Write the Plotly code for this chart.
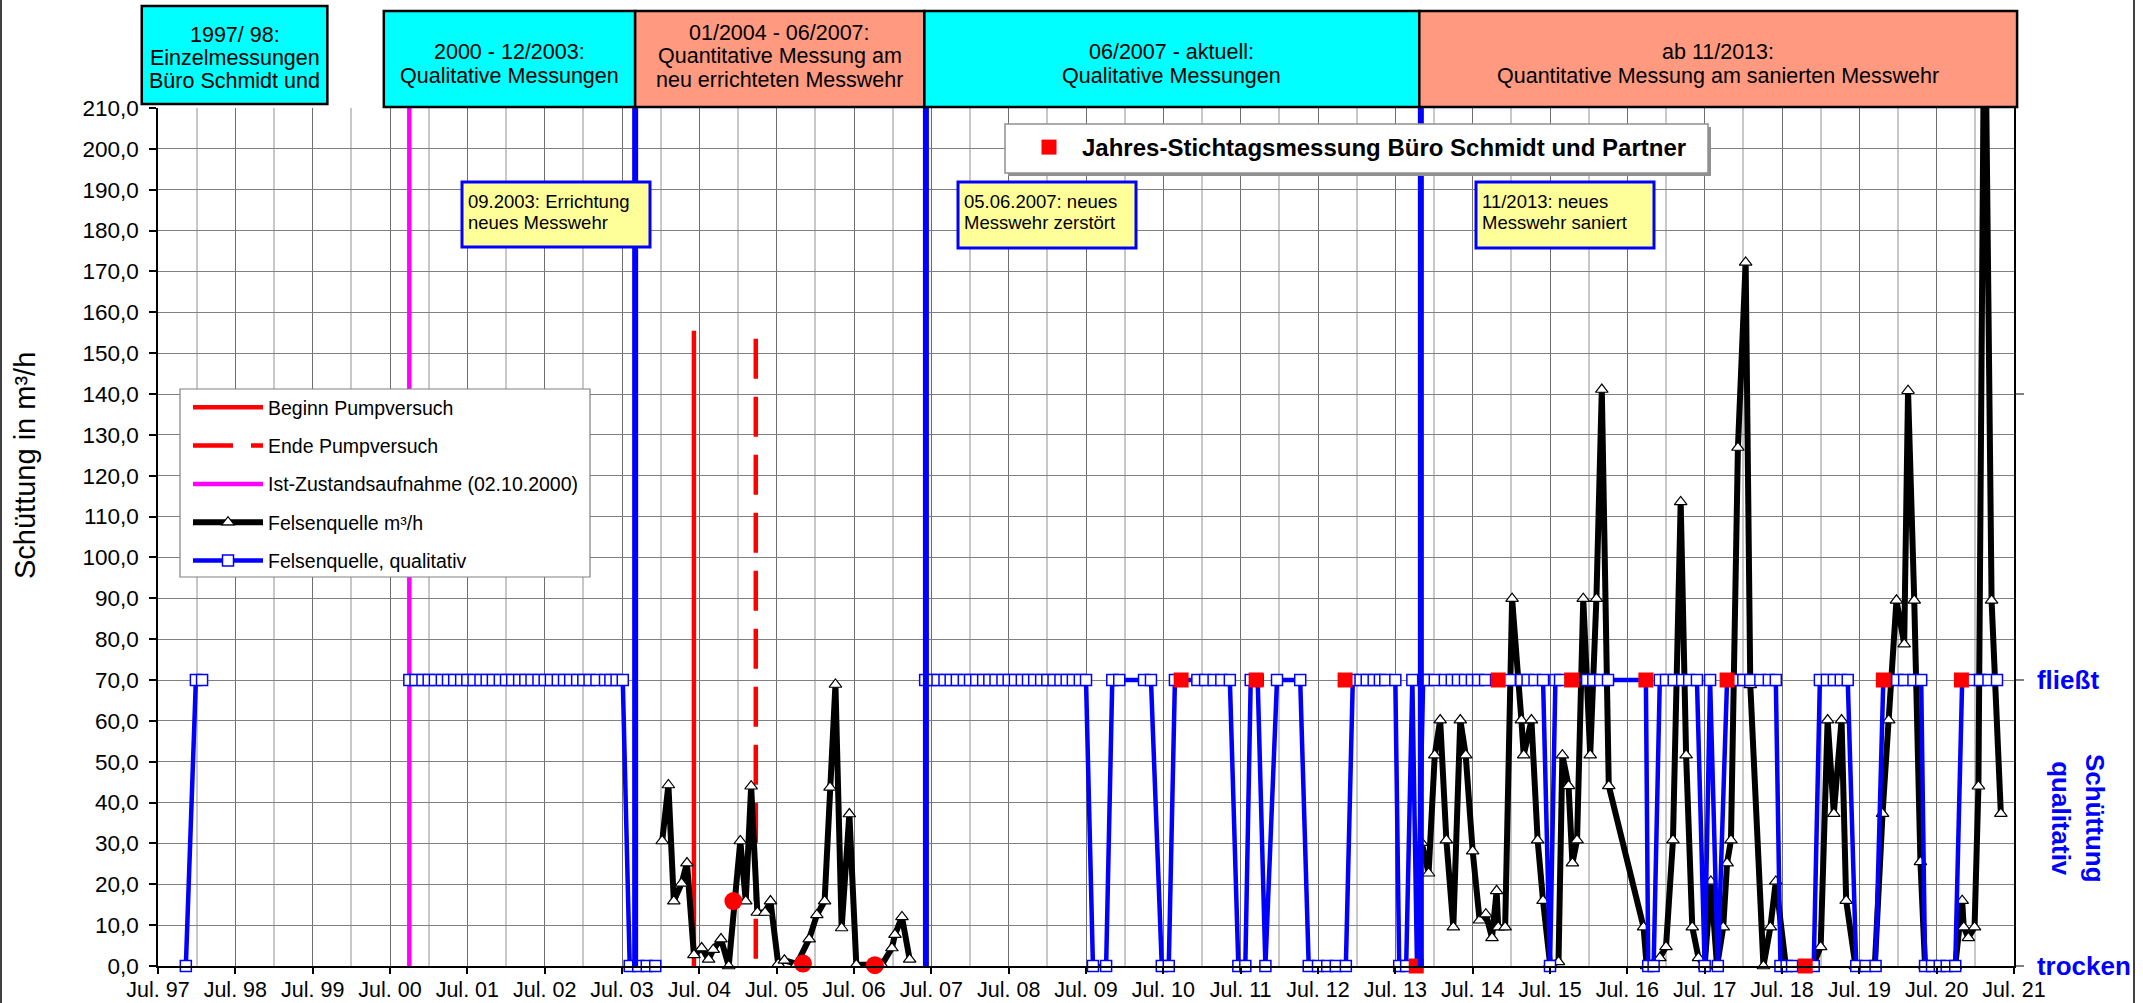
import plotly.graph_objects as go

FONT = "Liberation Sans, Arial, sans-serif"

# ---------------- axis ticks ----------------
tick_vals = [1997.5, 1998.5, 1999.5, 2000.5, 2001.5, 2002.5, 2003.5, 2004.5, 2005.5,
             2006.5, 2007.5, 2008.5, 2009.5, 2010.5, 2011.5, 2012.5, 2013.5, 2014.5,
             2015.5, 2016.5, 2017.5, 2018.5, 2019.5, 2020.5, 2021.5]
tick_text = ["Jul. 97", "Jul. 98", "Jul. 99", "Jul. 00", "Jul. 01", "Jul. 02", "Jul. 03",
             "Jul. 04", "Jul. 05", "Jul. 06", "Jul. 07", "Jul. 08", "Jul. 09", "Jul. 10",
             "Jul. 11", "Jul. 12", "Jul. 13", "Jul. 14", "Jul. 15", "Jul. 16", "Jul. 17",
             "Jul. 18", "Jul. 19", "Jul. 20", "Jul. 21"]
qual_tick_vals = [0, 70, 140]
qual_tick_text = ["trocken", "fließt", ""]

# ---------------- Felsenquelle m³/h (decimal years) ----------------
quant_a_x = [2004.02, 2004.10, 2004.17, 2004.27, 2004.34, 2004.43, 2004.53, 2004.62, 2004.68,
             2004.78, 2004.88, 2005.03, 2005.10, 2005.17, 2005.25, 2005.35, 2005.42, 2005.52,
             2005.60, 2005.76, 2005.92, 2006.02, 2006.12, 2006.19, 2006.26, 2006.34, 2006.44,
             2006.53, 2006.86, 2006.99, 2007.03, 2007.12, 2007.22]
quant_a_y = [30.6, 44.3, 15.9, 20.2, 25.2, 2.7, 4.4, 1.6, 4.0,
             6.6, 0.0, 30.6, 15.9, 44.0, 13.1, 13.1, 15.9, 0.5,
             1.4, 0.5, 6.6, 12.5, 15.9, 43.7, 68.9, 9.3, 37.2,
             0.3, 0.3, 4.4, 7.7, 12.0, 1.6]

quant_b_x = [2013.84, 2013.93, 2014.01, 2014.08, 2014.16, 2014.25, 2014.34, 2014.41, 2014.50,
             2014.59, 2014.67, 2014.75, 2014.81, 2014.83, 2014.92, 2015.01, 2015.13, 2015.16,
             2015.26, 2015.34, 2015.41, 2015.50, 2015.61, 2015.66, 2015.74, 2015.79, 2015.85,
             2015.93, 2016.02, 2016.10, 2016.17, 2016.26, 2016.71, 2016.75, 2016.92, 2017.00,
             2017.09, 2017.19, 2017.26, 2017.34, 2017.42, 2017.50, 2017.58, 2017.66, 2017.74,
             2017.79, 2017.84, 2017.93, 2018.03, 2018.09, 2018.26, 2018.35, 2018.42, 2018.55,
             2018.90, 2019.00, 2019.09, 2019.17, 2019.27, 2019.33, 2019.45, 2019.70, 2019.80,
             2019.88, 2019.98, 2020.08, 2020.13, 2020.21, 2020.29, 2020.35, 2020.74, 2020.83,
             2020.85, 2020.91, 2020.99, 2021.04, 2021.12, 2021.21, 2021.33]
quant_b_y = [30.2, 22.7, 51.6, 60.2, 30.8, 9.5, 60.2, 51.6, 28.1,
             11.2, 12.7, 6.9, 18.4, 9.5, 9.5, 89.9, 60.2, 51.6,
             60.2, 30.8, 16.0, 0.6, 1.0, 51.6, 44.1, 25.2, 30.8,
             89.9, 51.6, 89.9, 141.1, 44.1, 9.5, 0.0, 2.0, 4.7,
             30.8, 113.6, 51.6, 9.5, 2.0, 0.0, 20.7, 0.0, 9.5,
             25.2, 30.8, 126.9, 172.2, 68.8, 0.0, 9.5, 20.7, 0.0,
             0.0, 4.7, 60.2, 37.3, 60.2, 16.0, 0.0, 0.0, 37.3,
             60.2, 89.5, 78.8, 140.8, 89.5, 25.5, 0.0, 0.0, 16.0,
             9.5, 6.9, 9.5, 44.0, 250.0, 89.5, 37.3]

# ---------------- Felsenquelle qualitativ (0 = trocken, 70 = fließt) ----------------
qual_97_x = [1997.86, 1997.99, 1998.07]
qual_97_y = [0, 70, 70]

qual_00_x = [2000.75, 2000.83, 2000.92,
             2001.00, 2001.08, 2001.17, 2001.25, 2001.33, 2001.42, 2001.50, 2001.58, 2001.67, 2001.75, 2001.83, 2001.92,
             2002.00, 2002.08, 2002.17, 2002.25, 2002.33, 2002.42, 2002.50, 2002.58, 2002.67, 2002.75, 2002.83, 2002.92,
             2003.00, 2003.08, 2003.17, 2003.28, 2003.35, 2003.43, 2003.51, 2003.60, 2003.71, 2003.82, 2003.93]
qual_00_y = [70, 70, 70,
             70, 70, 70, 70, 70, 70, 70, 70, 70, 70, 70, 70,
             70, 70, 70, 70, 70, 70, 70, 70, 70, 70, 70, 70,
             70, 70, 70, 70, 70, 70, 70, 0, 0, 0, 0]

qual_07_x = [2007.42, 2007.50, 2007.58, 2007.67, 2007.75, 2007.83, 2007.92,
             2008.00, 2008.08, 2008.17, 2008.25, 2008.33, 2008.42, 2008.50, 2008.58, 2008.67, 2008.75, 2008.83, 2008.92,
             2009.00, 2009.08, 2009.17, 2009.25, 2009.33, 2009.42, 2009.50, 2009.59, 2009.76, 2009.84, 2009.93,
             2010.25, 2010.34, 2010.48, 2010.57, 2010.65, 2010.73, 2010.94,
             2011.04, 2011.15, 2011.25, 2011.36, 2011.47, 2011.56, 2011.63, 2011.72, 2011.82, 2011.97,
             2012.27, 2012.38, 2012.50, 2012.62, 2012.73, 2012.86, 2012.95,
             2013.05, 2013.13, 2013.22, 2013.30, 2013.37, 2013.50, 2013.55, 2013.64, 2013.72, 2013.78, 2013.86, 2013.91,
             2014.01, 2014.14, 2014.23, 2014.31, 2014.40, 2014.49, 2014.57, 2014.66, 2014.81, 2014.98,
             2015.13, 2015.21, 2015.30, 2015.41, 2015.50, 2015.57, 2015.63, 2015.78, 2015.98,
             2016.06, 2016.15, 2016.25, 2016.74, 2016.77, 2016.84, 2016.92,
             2017.00, 2017.10, 2017.21, 2017.30, 2017.40, 2017.50, 2017.57, 2017.67, 2017.79, 2017.92,
             2018.00, 2018.09, 2018.22, 2018.33, 2018.42, 2018.48, 2018.56, 2018.63, 2018.81, 2018.91, 2018.99,
             2019.08, 2019.17, 2019.26, 2019.35, 2019.46, 2019.58, 2019.71, 2019.81, 2019.99,
             2020.08, 2020.20, 2020.30, 2020.35, 2020.44, 2020.54, 2020.63, 2020.74, 2020.83, 2020.96,
             2021.06, 2021.17, 2021.28]
qual_07_y = [70, 70, 70, 70, 70, 70, 70,
             70, 70, 70, 70, 70, 70, 70, 70, 70, 70, 70, 70,
             70, 70, 70, 70, 70, 70, 70, 0, 0, 70, 70,
             70, 70, 0, 0, 70, 70, 70,
             70, 70, 70, 70, 0, 0, 70, 70, 0, 70,
             70, 0, 0, 0, 0, 0, 70,
             70, 70, 70, 70, 70, 70, 0, 0, 70, 0, 70, 70,
             70, 70, 70, 70, 70, 70, 70, 70, 70, 70,
             70, 70, 70, 70, 0, 70, 70, 70, 70,
             70, 70, 70, 70, 0, 0, 70,
             70, 70, 70, 70, 70, 0, 70, 0, 70, 70,
             70, 70, 70, 70, 70, 0, 0, 0, 0, 0, 70,
             70, 70, 70, 70, 0, 0, 0, 70, 70,
             70, 70, 70, 0, 0, 0, 0, 0, 70, 70,
             70, 70, 70]

# ---------------- Jahres-Stichtagsmessung Büro Schmidt und Partner ----------------
stichtag_q_x = [2010.73, 2011.70, 2012.85, 2013.77, 2014.83, 2015.78, 2016.74, 2017.79, 2018.80, 2019.81, 2020.82]
stichtag_q_y = [70, 70, 70, 0, 70, 70, 70, 70, 0, 70, 70]
stichtag_m_x = [2004.94, 2005.84, 2006.77]
stichtag_m_y = [15.9, 0.6, 0.2]

# ---------------- events ----------------
pump_start_x = 2004.43
pump_start_top = 155.5
pump_end_x = 2005.23
pump_end_top = 153.5
ist_x = 2000.75
weir_event_x = [2003.67, 2007.43, 2013.83]

# header periods
period_start = [1997.29, 2000.42, 2003.67, 2007.41, 2013.81]
period_end = [1999.69, 2003.67, 2007.41, 2013.81, 2021.54]
period_color = ["#00ffff", "#00ffff", "#ff997f", "#00ffff", "#ff997f"]
period_lines = [["1997/ 98:", "Einzelmessungen", "Büro Schmidt und"],
                ["2000 - 12/2003:", "Qualitative Messungen"],
                ["01/2004 - 06/2007:", "Quantitative Messung am", "neu errichteten Messwehr"],
                ["06/2007 - aktuell:", "Qualitative Messungen"],
                ["ab 11/2013:", "Quantitative Messung am sanierten Messwehr"]]

# ---------------- geometry helpers (pixel -> paper) ----------------
W, H = 2143, 1003
ML, MR, MT, MB = 158, 129, 108, 37
PW, PH = W - ML - MR, H - MT - MB
X0, X1 = 1997.5, 2021.5


def pxx(x):
    return (x - ML) / PW


def pxy(y):
    return (H - MB - y) / PH


def yr2paper(yr):
    return (yr - X0) / (X1 - X0)


def join(*segs):
    out = []
    for i, s in enumerate(segs):
        if i:
            out.append(None)
        out.extend(s)
    return out


fig = go.Figure()

# red / magenta event lines
fig.add_trace(go.Scatter(x=[pump_start_x, pump_start_x], y=[0, pump_start_top], mode="lines",
                         line=dict(color="#ff0000", width=4.5), name="Beginn Pumpversuch",
                         legendgroup="g1", legendrank=1, hoverinfo="skip"))
fig.add_trace(go.Scatter(x=[pump_end_x, pump_end_x], y=[pump_end_top, 0], mode="lines",
                         line=dict(color="#ff0000", width=4.5, dash="40px,18px"), name="Ende Pumpversuch",
                         legendgroup="g2", legendrank=2, hoverinfo="skip"))
fig.add_trace(go.Scatter(x=[ist_x, ist_x], y=[0, 210], mode="lines",
                         line=dict(color="#ff00ff", width=4.5), name="Ist-Zustandsaufnahme (02.10.2000)",
                         legendgroup="g3", legendrank=3, hoverinfo="skip"))

# quantitative series
fig.add_trace(go.Scatter(x=join(quant_a_x, quant_b_x), y=join(quant_a_y, quant_b_y),
                         mode="lines+markers", name="Felsenquelle m³/h",
                         line=dict(color="black", width=6),
                         marker=dict(symbol="triangle-up", size=11, color="white",
                                     line=dict(color="black", width=1.2)),
                         cliponaxis=False, legendgroup="g4", legendrank=4))
fig.add_trace(go.Scatter(x=stichtag_m_x, y=stichtag_m_y, mode="markers", showlegend=False,
                         marker=dict(symbol="circle", size=18, color="#ff0000"), cliponaxis=False))

# qualitative series on the right axis
fig.add_trace(go.Scatter(x=join(qual_97_x, qual_00_x, qual_07_x), y=join(qual_97_y, qual_00_y, qual_07_y),
                         yaxis="y2", mode="lines+markers", name="Felsenquelle, qualitativ",
                         line=dict(color="#0000ff", width=4.5),
                         marker=dict(symbol="square", size=11, color="white",
                                     line=dict(color="#0000ff", width=1.5)),
                         cliponaxis=False, legendgroup="g5", legendrank=5))
fig.add_trace(go.Scatter(x=stichtag_q_x, y=stichtag_q_y, yaxis="y2", mode="markers",
                         name="Jahres-Stichtagsmessung Büro Schmidt und Partner", legend="legend2",
                         marker=dict(symbol="square", size=15, color="#ff0000"), cliponaxis=False))
ev_x, ev_y = [], []
for e in weir_event_x:
    ev_x += [e, e, None]
    ev_y += [0, 210, None]
fig.add_trace(go.Scatter(x=ev_x, y=ev_y, yaxis="y2", mode="lines", showlegend=False,
                         line=dict(color="#0000ff", width=6), hoverinfo="skip"))

shapes = []
annotations = []

# header boxes
for s, e, c, lines, idx in zip(period_start, period_end, period_color, period_lines, range(5)):
    top = 6 if idx == 0 else 11
    bot = 104 if idx == 0 else 107
    shapes.append(dict(type="rect", xref="paper", yref="paper", x0=yr2paper(s), x1=yr2paper(e),
                       y0=pxy(bot), y1=pxy(top), fillcolor=c, line=dict(color="black", width=2.5),
                       layer="above"))
    cx = (yr2paper(s) + yr2paper(e)) / 2
    n = len(lines)
    mid = (top + bot) / 2 + (-3 if n == 3 else 5 if n == 2 else 0)
    if idx == 0:
        mid = (top + bot) / 2 + 3
    for k, t in enumerate(lines):
        yy = mid + (k - (n - 1) / 2) * 23.5
        annotations.append(dict(text=t, x=cx, y=pxy(yy), xref="paper", yref="paper",
                                xanchor="center", yanchor="middle", showarrow=False,
                                font=dict(size=21.5, color="black", family=FONT)))

# yellow note boxes
notes = [((462, 182, 650, 247), ["09.2003: Errichtung", "neues Messwehr"]),
         ((958, 182, 1136, 248), ["05.06.2007: neues", "Messwehr zerstört"]),
         ((1476, 182, 1654, 248), ["11/2013: neues", "Messwehr saniert"])]
for (x0, y0, x1, y1), lines in notes:
    shapes.append(dict(type="rect", xref="paper", yref="paper", x0=pxx(x0), x1=pxx(x1),
                       y0=pxy(y1), y1=pxy(y0), fillcolor="#ffff99", line=dict(color="#0000ff", width=3),
                       layer="above"))
    for k, t in enumerate(lines):
        annotations.append(dict(text=t, x=pxx(x0 + 5), y=pxy(y0 + 19 + 22 * k), xref="paper", yref="paper",
                                xanchor="left", yanchor="middle", showarrow=False, borderpad=0,
                                font=dict(size=18.5, color="black", family=FONT)))

# legend boxes
shapes.append(dict(type="rect", xref="paper", yref="paper", x0=pxx(180), x1=pxx(590),
                   y0=pxy(577), y1=pxy(389), fillcolor="white", line=dict(color="#808080", width=1.2),
                   layer="above"))
shapes.append(dict(type="rect", xref="paper", yref="paper", x0=pxx(1008), x1=pxx(1711),
                   y0=pxy(176), y1=pxy(127), fillcolor="#909090", line=dict(width=0), layer="above"))
shapes.append(dict(type="rect", xref="paper", yref="paper", x0=pxx(1005), x1=pxx(1708),
                   y0=pxy(173), y1=pxy(124), fillcolor="white", line=dict(color="#909090", width=1.5),
                   layer="above"))

# outer frame
for fx in (1, 2134):
    shapes.append(dict(type="line", xref="paper", yref="paper", x0=pxx(fx), x1=pxx(fx),
                       y0=pxy(H + 5), y1=pxy(-5), line=dict(color="#404040", width=2), layer="above"))

# left axis title
annotations.append(dict(text="Schüttung in m³/h", x=pxx(25), y=pxy(466), xref="paper", yref="paper",
                        xanchor="center", yanchor="middle", showarrow=False, textangle=-90,
                        font=dict(size=29, color="black", family=FONT)))

# right axis title
annotations.append(dict(text="Schüttung<br>qualitativ", x=pxx(2078), y=pxy(818), xref="paper", yref="paper",
                        xanchor="center", yanchor="middle", showarrow=False, textangle=90,
                        font=dict(size=26, color="#0000ff", family=FONT, weight="bold")))

fig.update_layout(
    width=W, height=H,
    margin=dict(l=ML, r=MR, t=MT, b=MB, autoexpand=False),
    paper_bgcolor="white", plot_bgcolor="white",
    separators=",.",
    font=dict(family=FONT, color="black"),
    showlegend=True,
    xaxis=dict(range=[X0, X1], tickmode="array", tickvals=tick_vals, ticktext=tick_text,
               ticks="outside", ticklen=6, tickcolor="black", tickwidth=1.5,
               tickfont=dict(size=21.5, color="black"), ticklabelstandoff=-3,
               showgrid=True, gridcolor="#6e6e6e", gridwidth=1.3,
               showline=True, linecolor="black", linewidth=1.5, zeroline=False,
               minor=dict(tickmode="linear", tick0=1998, dtick=1, showgrid=True,
                          gridcolor="#c8c8c8", gridwidth=2, ticks="")),
    yaxis=dict(range=[0, 210], tickmode="linear", tick0=0, dtick=10, tickformat=".1f",
               ticks="outside", ticklen=7, tickcolor="black", tickwidth=1.5,
               tickfont=dict(size=22.5, color="black"), ticklabelstandoff=6,
               showgrid=True, gridcolor="#808080", gridwidth=1.2,
               showline=True, linecolor="black", linewidth=1.5, zeroline=False),
    yaxis2=dict(overlaying="y", side="right", range=[0, 210], tickmode="array",
                tickvals=qual_tick_vals, ticktext=qual_tick_text,
                ticks="outside", ticklen=8, tickcolor="#808080", tickwidth=1.5,
                tickfont=dict(size=26, color="#0000ff", weight="bold"), ticklabelstandoff=8,
                showgrid=False, showline=True, linecolor="black", linewidth=1.5, zeroline=False),
    legend=dict(x=pxx(188), y=pxy(388), xanchor="left", yanchor="top", bgcolor="rgba(0,0,0,0)",
                borderwidth=0, font=dict(size=19.5, color="black", family=FONT), itemwidth=70,
                tracegroupgap=10, traceorder="grouped"),
    legend2=dict(x=pxx(1016), y=pxy(125), xanchor="left", yanchor="top", bgcolor="rgba(0,0,0,0)",
                 borderwidth=0, font=dict(size=24, color="black", family=FONT, weight="bold"),
                 itemwidth=56),
    shapes=shapes,
    annotations=annotations,
)

fig.write_html("out.html", config={"displayModeBar": False},
               post_script="document.body.style.margin='0px';document.body.style.overflow='hidden';")
